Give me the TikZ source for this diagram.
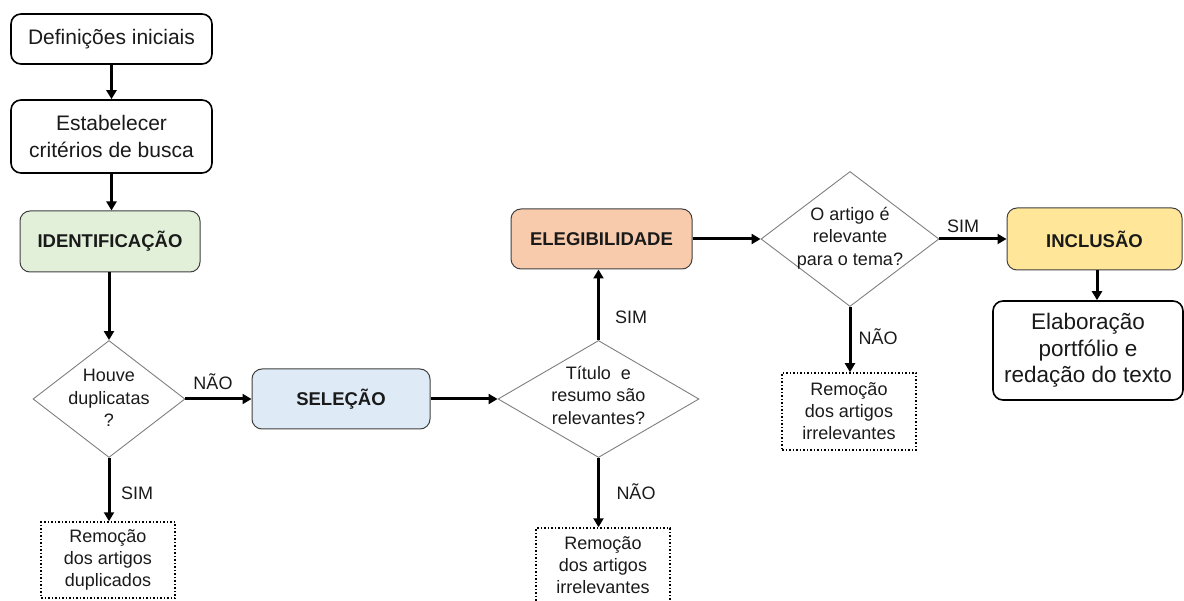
\documentclass[tikz,border=0pt]{standalone}
\usepackage{fontspec}
\setmainfont{Liberation Sans}
\usetikzlibrary{arrows.meta,shapes.geometric}

\definecolor{fillgreen}{HTML}{E2F0D9}
\definecolor{fillblue}{HTML}{DEEBF7}
\definecolor{fillorange}{HTML}{F8CBAD}
\definecolor{fillyellow}{HTML}{FFE699}
\definecolor{edgegray}{HTML}{404040}
\definecolor{diamgray}{HTML}{7F7F7F}
\definecolor{inkc}{HTML}{1A1A1A}

\tikzset{
  whitebox/.style={draw=black, line width=1.6pt, rounded corners=10pt, fill=white,
    align=center, inner sep=0pt, text=inkc,
    font=\fontsize{21}{27}\selectfont},
  phasebox/.style={draw=edgegray, line width=1pt, rounded corners=10pt,
    align=center, inner sep=0pt, text=inkc,
    font=\fontsize{18.5}{22}\selectfont\bfseries},
  decision/.style={diamond, draw=diamgray, line width=0.9pt, inner sep=0pt},
  decisiontext/.style={align=center, inner sep=0pt, text=inkc,
    font=\fontsize{18}{22.5}\selectfont},
  removal/.style={draw=black, dotted, line width=1.5pt, align=center,
    inner sep=0pt, text=inkc, font=\fontsize{18}{22}\selectfont},
  flow/.style={line width=3pt, -{Triangle[length=9pt,width=10pt]}},
  answer/.style={inner sep=0pt, text=inkc, font=\fontsize{18}{22}\selectfont},
}

\begin{document}
\begin{tikzpicture}[x=1pt,y=-1pt]
\useasboundingbox (0,0) rectangle (1184,601);

% left column
\node[whitebox, minimum width=201pt, minimum height=50pt] (def) at (111.5,39) {Definições iniciais};
\node[whitebox, minimum width=201pt, minimum height=73pt] (est) at (111.5,136.5) {Estabelecer\\critérios de busca};
\node[phasebox, fill=fillgreen, minimum width=180pt, minimum height=61pt] (ident) at (110,241.5) {IDENTIFICAÇÃO};

\node[decision, minimum width=152pt, minimum height=117pt] (d1) at (109,399) {};
\node[decisiontext] (d1t) at (109,398) {Houve\\duplicatas\\?};
\node[removal, minimum width=134pt, minimum height=76pt] (rem1) at (108,560) {Remoção\\dos artigos\\duplicados};

% selection stage
\node[phasebox, fill=fillblue, minimum width=178pt, minimum height=60pt] (sel) at (341,399) {SELEÇÃO};

\node[decision, minimum width=201pt, minimum height=117pt] (d2) at (598.5,399) {};
\node[decisiontext] (d2t) at (598.5,395) {Título\ \ e\\resumo são\\relevantes?};
\node[removal, minimum width=134pt, minimum height=74pt] (rem2) at (603,565) {Remoção\\dos artigos\\irrelevantes};

% eligibility stage
\node[phasebox, fill=fillorange, minimum width=181pt, minimum height=60pt] (eleg) at (601.5,239) {ELEGIBILIDADE};

\node[decision, minimum width=178pt, minimum height=135pt] (d3) at (850,239) {};
\node[decisiontext] (d3t) at (850,238) {O artigo é\\relevante\\para o tema?};
\node[removal, minimum width=134pt, minimum height=77pt] (rem3) at (849,411.5) {Remoção\\dos artigos\\irrelevantes};

% inclusion stage
\node[phasebox, fill=fillyellow, minimum width=175pt, minimum height=62pt] (incl) at (1094.5,239) {INCLUSÃO};
\node[whitebox, minimum width=190pt, minimum height=99pt, font=\fontsize{22.5}{26.5}\selectfont] (elab) at (1088,350.5) {Elaboração\\portfólio e\\redação do texto};

% connectors
\draw[flow] (def) -- (est);
\draw[flow] (est) -- (est |- ident.north);
\draw[flow] (ident.south -| d1.north) -- (d1.north);
\draw[flow] (d1.east) -- (sel.west);
\draw[flow] (d1.south) -- (d1.south |- rem1.north);
\draw[flow] (sel.east) -- (d2.west);
\draw[flow] (d2.north) -- (d2.north |- eleg.south);
\draw[flow] (d2.south) -- (d2.south |- rem2.north);
\draw[flow] (eleg.east) -- (d3.west);
\draw[flow] (d3.south) -- (d3.south |- rem3.north);
\draw[flow] (d3.east) -- (incl.west);
\draw[flow] (incl.south -| 1097,0) -- (elab.north -| 1097,0);

% answers on the branches
\node[answer] (a1) at (213,382) {NÃO};
\node[answer] (a2) at (137,493) {SIM};
\node[answer] (a3) at (631,317) {SIM};
\node[answer] (a4) at (636,492) {NÃO};
\node[answer] (a5) at (878,337) {NÃO};
\node[answer] (a6) at (963,226) {SIM};
\end{tikzpicture}
\end{document}
